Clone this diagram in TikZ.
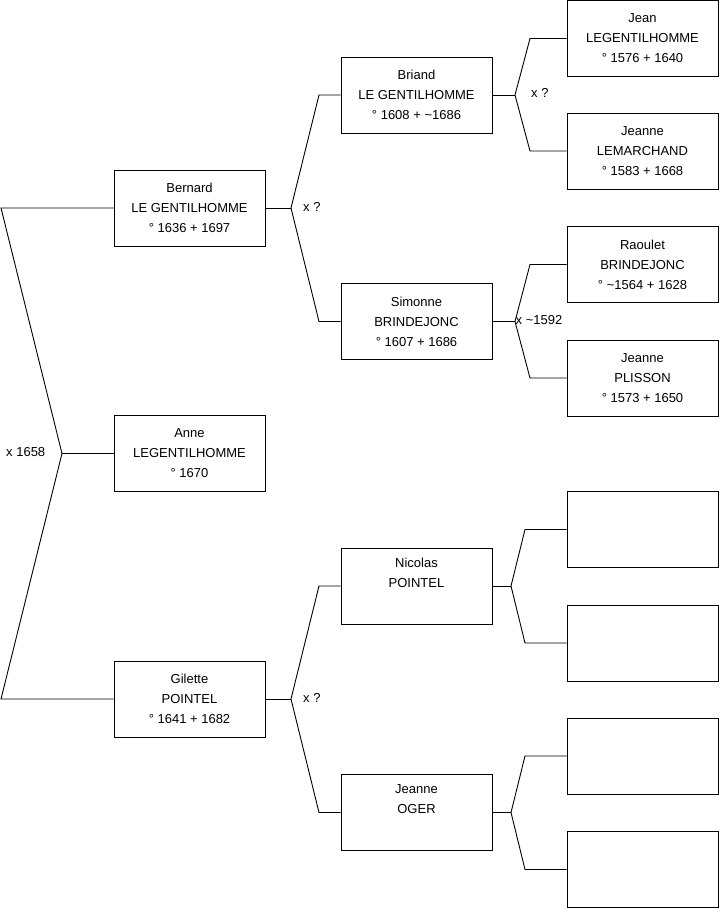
\documentclass[tikz,border=0pt]{standalone}
\usepackage{fontspec}
\setmainfont{Liberation Sans}
\begin{document}
\begin{tikzpicture}[x=1pt,y=-1pt,
  person/.style={draw=black, line width=0.9pt, minimum width=151pt, minimum height=76pt, inner sep=0pt, align=center, font=\fontsize{13}{20}\selectfont},
  link/.style={draw=black, line width=0.9pt, line join=miter},
  lab/.style={anchor=west, inner sep=0pt, font=\fontsize{13}{16}\selectfont}]
\useasboundingbox (0,0) rectangle (719,908);
% generation 1
\node[person] (bernard) at (189.5,208) {Bernard\\LE GENTILHOMME\\° 1636 + 1697};
\node[person] (anne) at (189.5,453.5) {Anne\\LEGENTILHOMME\\° 1670};
\node[person] (gilette) at (189.5,699) {Gilette\\POINTEL\\° 1641 + 1682};
% generation 2
\node[person] (briand) at (416.5,95) {Briand\\LE GENTILHOMME\\° 1608 + \textasciitilde1686};
\node[person] (simonne) at (416.5,321.5) {Simonne\\BRINDEJONC\\° 1607 + 1686};
\node[person] (nicolas) at (416.5,586) {Nicolas\\POINTEL\\\strut};
\node[person] (oger) at (416.5,812.5) {Jeanne\\OGER\\\strut};
% generation 3
\node[person] (jean) at (642.5,38.5) {Jean\\LEGENTILHOMME\\° 1576 + 1640};
\node[person] (lemarchand) at (642.5,151) {Jeanne\\LEMARCHAND\\° 1583 + 1668};
\node[person] (raoulet) at (642.5,264.5) {Raoulet\\BRINDEJONC\\° \textasciitilde1564 + 1628};
\node[person] (plisson) at (642.5,378) {Jeanne\\PLISSON\\° 1573 + 1650};
\node[person] (e1) at (642.5,529.5) {};
\node[person] (e2) at (642.5,643) {};
\node[person] (e3) at (642.5,756) {};
\node[person] (e4) at (642.5,869.5) {};
% root fork
\coordinate (r) at (62,453.5);
\coordinate (r1) at (1,208);
\coordinate (r2) at (1,699);
\draw[link] (bernard.west) -- (r1) -- (r) -- (r2) -- (gilette.west);
\draw[link] (r) -- (anne.west);
\node[lab] (lr) at (6,452) {x 1658};
% Bernard fork
\coordinate (b) at (291,208);
\coordinate (b1) at (319,95);
\coordinate (b2) at (319,321.5);
\draw[link] (bernard.east) -- (b);
\draw[link] (briand.west) -- (b1) -- (b) -- (b2) -- (simonne.west);
\node[lab] (lb) at (303,207) {x ?};
% Gilette fork
\coordinate (g) at (291,699);
\coordinate (g1) at (319,586);
\coordinate (g2) at (319,812.5);
\draw[link] (gilette.east) -- (g);
\draw[link] (nicolas.west) -- (g1) -- (g) -- (g2) -- (oger.west);
\node[lab] (lg) at (303,698) {x ?};
% Briand fork
\coordinate (bb) at (515,95);
\coordinate (bb1) at (530,38.5);
\coordinate (bb2) at (530,151);
\draw[link] (briand.east) -- (bb);
\draw[link] (jean.west) -- (bb1) -- (bb) -- (bb2) -- (lemarchand.west);
\node[lab] (lbb) at (531,93) {x ?};
% Simonne fork
\coordinate (s) at (515,321.5);
\coordinate (s1) at (530,264.5);
\coordinate (s2) at (530,378);
\draw[link] (simonne.east) -- (s);
\draw[link] (raoulet.west) -- (s1) -- (s) -- (s2) -- (plisson.west);
\node[lab] (ls) at (515.5,320) {x \textasciitilde1592};
% Nicolas fork
\coordinate (n) at (511,586);
\coordinate (n1) at (525,529.5);
\coordinate (n2) at (525,643);
\draw[link] (nicolas.east) -- (n);
\draw[link] (e1.west) -- (n1) -- (n) -- (n2) -- (e2.west);
% Oger fork
\coordinate (o) at (511,812.5);
\coordinate (o1) at (525,756);
\coordinate (o2) at (525,869.5);
\draw[link] (oger.east) -- (o);
\draw[link] (e3.west) -- (o1) -- (o) -- (o2) -- (e4.west);
\end{tikzpicture}
\end{document}
